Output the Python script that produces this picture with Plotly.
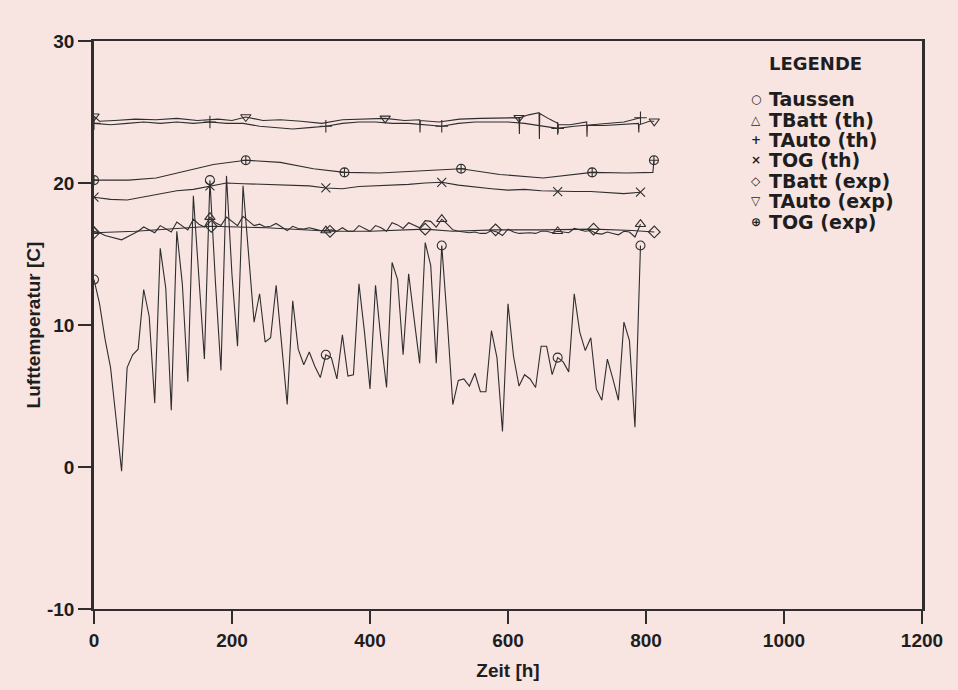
import plotly.graph_objects as go

# ---------------- data ----------------
HOURS_8H = [0, 8, 16, 24, 32, 40, 48, 56, 64, 72,
            80, 88, 96, 104, 112, 120, 128, 136, 144, 152,
            160, 168, 176, 184, 192, 200, 208, 216, 224, 232,
            240, 248, 256, 264, 272, 280, 288, 296, 304, 312,
            320, 328, 336, 344, 352, 360, 368, 376, 384, 392,
            400, 408, 416, 424, 432, 440, 448, 456, 464, 472,
            480, 488, 496, 504, 512, 520, 528, 536, 544, 552,
            560, 568, 576, 584, 592, 600, 608, 616, 624, 632,
            640, 648, 656, 664, 672, 680, 688, 696, 704, 712,
            720, 728, 736, 744, 752, 760, 768, 776, 784, 792]

TAUSSEN = [13.2, 11.5, 9.0, 7.0, 3.4, -0.3, 7.0, 7.9, 8.3, 12.5,
           10.6, 4.5, 15.4, 12.6, 4.0, 16.6, 12.9, 6.0, 19.1, 13.5,
           7.6, 20.2, 13.0, 6.8, 20.5, 13.5, 8.5, 19.8, 15.0, 10.2,
           12.2, 8.8, 9.1, 12.8, 8.6, 4.4, 11.7, 8.3, 7.2, 8.1,
           7.1, 6.3, 7.9, 7.7, 6.2, 9.3, 6.4, 6.5, 12.9, 9.5,
           5.5, 12.8, 8.9, 5.6, 14.4, 13.2, 7.9, 13.6, 10.4, 7.3,
           15.8, 14.2, 7.3, 15.6, 10.3, 4.4, 6.1, 6.2, 5.7, 6.6,
           5.3, 5.3, 9.6, 7.7, 2.5, 11.5, 7.8, 5.7, 6.5, 6.2,
           5.6, 8.5, 8.5, 6.5, 7.7, 7.4, 6.7, 12.2, 9.5, 8.2,
           9.1, 5.5, 4.7, 7.6, 6.2, 4.7, 10.2, 8.9, 2.8, 15.6]

TBATT_TH = [16.6, 16.5, 16.3, 16.2, 16.1, 16.0, 16.2, 16.4, 16.6, 16.9,
            16.7, 16.5, 17.0, 16.8, 16.55, 17.25, 17.0, 16.7, 17.45, 17.1,
            16.9, 17.6, 17.2, 17.0, 17.6, 17.3, 17.0, 17.65, 17.3, 17.0,
            17.1, 16.9, 16.95, 17.15, 16.9, 16.65, 16.95, 16.8, 16.75, 16.85,
            16.75, 16.65, 16.65, 16.7, 16.6, 16.85, 16.6, 16.6, 17.0, 16.8,
            16.6, 17.0, 16.85, 16.6, 17.2, 17.05, 16.8, 17.2, 17.0, 16.85,
            17.35, 17.3, 16.9, 17.45, 17.1, 16.7, 16.6, 16.55, 16.5, 16.55,
            16.45, 16.45, 16.65, 16.55, 16.3, 16.75, 16.55, 16.45, 16.5, 16.5,
            16.45, 16.6, 16.6, 16.5, 16.6, 16.55, 16.5, 16.8, 16.7, 16.6,
            16.65, 16.45, 16.4, 16.55, 16.45, 16.35, 16.6, 16.55, 16.2, 17.1]

MARK_IDX_8H = [0, 21, 42, 63, 84, 99]

HOURS_24H = [0, 24, 48, 72, 96, 120, 144, 168, 192, 216,
             240, 264, 288, 312, 336, 360, 384, 408, 432, 456,
             480, 504, 528, 552, 576, 600, 624, 648, 672, 696,
             720, 744, 768, 792]

TAUTO_TH = [24.2, 24.1, 24.2, 24.3, 24.2, 24.3, 24.2, 24.3, 24.2, 24.2,
            24.0, 23.9, 23.8, 23.9, 24.0, 24.2, 24.3, 24.3, 24.2, 24.2,
            24.1, 24.0, 24.2, 24.3, 24.3, 24.3, 24.2, 24.0, 23.85, 24.0,
            24.1, 24.2, 24.3, 24.6]

TOG_TH = [19.0, 18.85, 18.8, 19.0, 19.2, 19.45, 19.55, 19.8, 20.0, 19.95,
          19.9, 19.85, 19.85, 19.8, 19.65, 19.6, 19.75, 19.8, 19.8, 19.9,
          20.0, 20.05, 19.85, 19.7, 19.6, 19.5, 19.55, 19.45, 19.4, 19.4,
          19.4, 19.3, 19.25, 19.35]

MARK_IDX_24H = [0, 7, 14, 21, 28, 33]

TBATT_EXP_X = [0, 60, 120, 170, 250, 342, 400, 480, 520, 582, 650, 724, 780, 812]
TBATT_EXP_Y = [16.5, 16.6, 16.8, 16.95, 16.85, 16.6, 16.6, 16.75, 16.6, 16.7, 16.7, 16.75, 16.65, 16.55]
TBATT_EXP_MARKS = [0, 3, 5, 7, 9, 11, 13]

TAUTO_EXP_X = [0, 8, 30, 60, 90, 120, 150, 180, 200, 220,
               245, 270, 300, 330, 360, 390, 422, 450, 472, 472.5,
               473, 500, 530, 560, 590, 616, 616.5, 617, 630, 645,
               645.5, 646, 660, 672, 672.5, 673, 690, 714, 714.5, 715,
               740, 765, 789, 789.5, 790, 805, 812]
TAUTO_EXP_Y = [24.7, 24.35, 24.4, 24.5, 24.45, 24.55, 24.4, 24.5, 24.4, 24.65,
               24.4, 24.45, 24.35, 24.2, 24.45, 24.5, 24.55, 24.4, 24.45, 23.55,
               24.4, 24.3, 24.5, 24.55, 24.6, 24.6, 23.45, 24.6, 24.8, 24.95,
               23.1, 24.9, 24.5, 24.2, 23.5, 24.1, 24.1, 24.3, 23.25, 24.05,
               24.05, 24.15, 24.2, 23.55, 24.1, 24.35, 24.35]
TAUTO_EXP_MARKS = [0, 9, 16, 25, 46]

TOG_EXP_X = [0, 50, 90, 125, 173, 220, 270, 318, 363, 414, 458, 532, 588, 651, 722, 772, 810, 811.5]
TOG_EXP_Y = [20.2, 20.2, 20.35, 20.75, 21.3, 21.6, 21.45, 21.0, 20.75, 20.7, 20.8, 21.0, 20.6, 20.35, 20.75, 20.7, 20.75, 21.6]
TOG_EXP_MARKS = [0, 5, 8, 11, 14, 17]

X_TICKS = [0, 200, 400, 600, 800, 1000, 1200]
Y_TICKS = [-10, 0, 10, 20, 30]

LEGEND_TITLE = "LEGENDE"
LEGEND_NAMES = ["Taussen", "TBatt (th)", "TAuto (th)", "TOG (th)",
                "TBatt (exp)", "TAuto (exp)", "TOG (exp)"]
LEGEND_GLYPHS = ["\u25CB", "\u25B3", "+", "\u00D7", "\u25C7", "\u25BD", "\u2295"]

# ---------------- figure ----------------
INK = "#2e2e2e"
TXT = "#1e1e1e"
BG = "#f8e5e2"
AXFONT = "Liberation Sans, Arial, Helvetica, sans-serif"
LGFONT = "DejaVu Sans, Verdana, sans-serif"

series = [
    (LEGEND_NAMES[0], HOURS_8H, TAUSSEN, MARK_IDX_8H, "circle-open"),
    (LEGEND_NAMES[1], HOURS_8H, TBATT_TH, MARK_IDX_8H, "triangle-up-open"),
    (LEGEND_NAMES[2], HOURS_24H, TAUTO_TH, MARK_IDX_24H, "cross-thin-open"),
    (LEGEND_NAMES[3], HOURS_24H, TOG_TH, MARK_IDX_24H, "x-thin-open"),
    (LEGEND_NAMES[4], TBATT_EXP_X, TBATT_EXP_Y, TBATT_EXP_MARKS, "diamond-open"),
    (LEGEND_NAMES[5], TAUTO_EXP_X, TAUTO_EXP_Y, TAUTO_EXP_MARKS, "triangle-down-open"),
    (LEGEND_NAMES[6], TOG_EXP_X, TOG_EXP_Y, TOG_EXP_MARKS, "circle-cross-open"),
]

fig = go.Figure()
for name, xs, ys, idx, sym in series:
    fig.add_trace(go.Scatter(
        x=xs, y=ys, mode="lines", name=name, legendgroup=name, showlegend=False,
        hoverinfo="skip", line=dict(color=INK, width=1.1),
    ))
for name, xs, ys, idx, sym in series:
    fig.add_trace(go.Scatter(
        x=[xs[i] for i in idx], y=[ys[i] for i in idx], mode="markers",
        name=name, legendgroup=name, showlegend=False,
        marker=dict(symbol=sym, size=9, color=INK, line=dict(width=1.1, color=INK)),
    ))

# legend drawn as a text block (title + glyph + name rows)
PLOT_L, PLOT_R, PLOT_T, PLOT_B = 94, 922, 41, 613
def px_x(p):
    return (p - PLOT_L) / (PLOT_R - PLOT_L)
def px_y(p):
    return (PLOT_B - p) / (PLOT_B - PLOT_T)

annotations = [dict(
    text=LEGEND_TITLE, x=px_x(767), y=px_y(64), xref="paper", yref="paper",
    xanchor="left", yanchor="middle", showarrow=False,
    font=dict(family=LGFONT, size=18, color=TXT, weight="bold"),
)]
row0, step = 99.5, 20.6
for k, (glyph, name) in enumerate(zip(LEGEND_GLYPHS, LEGEND_NAMES)):
    yy = px_y(row0 + k * step)
    annotations.append(dict(
        text=glyph, x=px_x(756), y=yy, xref="paper", yref="paper",
        xanchor="center", yanchor="middle", showarrow=False,
        font=dict(family=LGFONT, size=12, color=TXT),
    ))
    annotations.append(dict(
        text=name, x=px_x(767), y=yy, xref="paper", yref="paper",
        xanchor="left", yanchor="middle", showarrow=False,
        font=dict(family=LGFONT, size=19, color=TXT, weight="bold"),
    ))

fig.update_layout(
    width=958, height=690,
    margin=dict(l=PLOT_L, r=958 - PLOT_R, t=PLOT_T, b=690 - PLOT_B),
    paper_bgcolor=BG, plot_bgcolor=BG,
    font=dict(family=AXFONT, size=19, color=TXT, weight="bold"),
    showlegend=False,
    annotations=annotations,
)

fig.update_xaxes(
    range=[0, 1200], tickvals=X_TICKS, ticktext=[str(v) for v in X_TICKS],
    showgrid=False, zeroline=False,
    showline=True, linecolor=INK, linewidth=2, mirror=True,
    ticks="outside", ticklen=13, tickwidth=1.5, tickcolor=INK,
    tickfont=dict(family=AXFONT, size=19, color=TXT, weight="bold"),
    title=dict(text="Zeit [h]", standoff=14,
               font=dict(family=AXFONT, size=19, color=TXT, weight="bold")),
)
fig.update_yaxes(
    range=[-10, 30], tickvals=Y_TICKS, ticktext=[str(v) for v in Y_TICKS],
    showgrid=False, zeroline=False,
    showline=True, linecolor=INK, linewidth=2.5, mirror=True,
    ticks="outside", ticklen=13, tickwidth=1.5, tickcolor=INK,
    tickfont=dict(family=AXFONT, size=19, color=TXT, weight="bold"),
    title=dict(text="Lufttemperatur [C]", standoff=2,
               font=dict(family=AXFONT, size=19, color=TXT, weight="bold")),
)

fig.write_html(
    "out.html",
    config={"displayModeBar": False},
    post_script="document.body.style.margin='0';document.body.style.background='%s';" % BG,
)
